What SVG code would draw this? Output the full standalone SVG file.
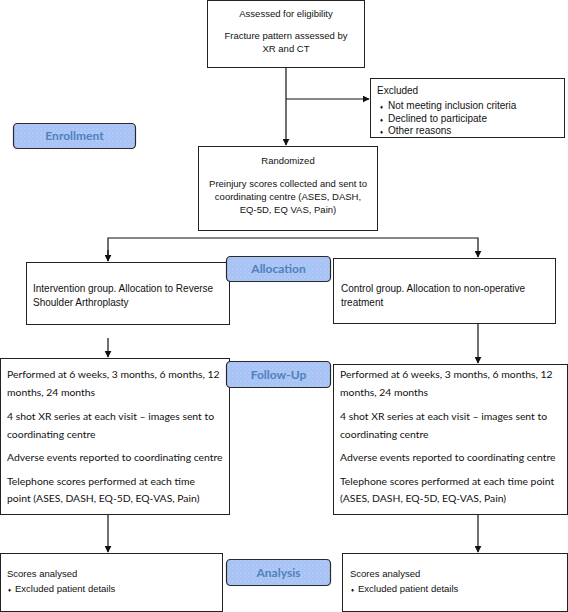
<svg xmlns="http://www.w3.org/2000/svg" width="568" height="612" viewBox="0 0 568 612">
<style>
.box{fill:#fff;stroke:#222;stroke-width:1}
.a{font-family:"Liberation Sans",Arial,sans-serif;font-size:9.5px;fill:#111}
.b{font-size:10px}
.c{font-family:Lato,"Liberation Sans",sans-serif;font-size:10.4px;fill:#111}
.mid{text-anchor:middle}
.pill{fill:url(#dots);stroke:#2a2a2a;stroke-width:1.2}
.pt{font-family:Lato,"Liberation Sans",sans-serif;font-weight:bold;font-size:12px;fill:#4f81bd;text-anchor:middle}
.ln{fill:none;stroke:#111;stroke-width:1.2}
.bul{font-size:6px}
</style>
<defs>
<pattern id="dots" width="4" height="4" patternUnits="userSpaceOnUse">
<rect width="4" height="4" fill="#a7c3f6"/>
<circle cx="1" cy="1" r="0.5" fill="#d9e3f0"/>
<circle cx="3" cy="3" r="0.4" fill="#c9d8f2"/>
</pattern>
<marker id="arr" viewBox="0 0 10 10" refX="9" refY="5" markerWidth="7" markerHeight="7" markerUnits="userSpaceOnUse" orient="auto">
<path d="M0,0 L10,5 L0,10 z" fill="#111"/>
</marker>
</defs>

<g id="connectors">
<path class="ln" d="M286,67 V145" marker-end="url(#arr)"/>
<path class="ln" d="M286,99 H369" marker-end="url(#arr)"/>
<path class="ln" d="M108,261 V238 H478 V257" marker-end="url(#arr)"/>
<path class="ln" d="M108,250 V261" marker-end="url(#arr)"/>
<path class="ln" d="M108,338 V357" marker-end="url(#arr)"/>
<path class="ln" d="M478,323 V363" marker-end="url(#arr)"/>
<path class="ln" d="M108,515 V552" marker-end="url(#arr)"/>
<path class="ln" d="M478,515 V552" marker-end="url(#arr)"/>
</g>

<g id="assessed">
<rect class="box" x="207.5" y="0.5" width="157" height="67"/>
<text class="a mid" x="286" y="17">Assessed for eligibility</text>
<text class="a mid" x="286" y="39">Fracture pattern assessed by</text>
<text class="a mid" x="286" y="52">XR and CT</text>
</g>

<g id="excluded">
<rect class="box" x="370.5" y="78.5" width="194" height="59"/>
<text class="a b" x="377" y="94">Excluded</text>
<text class="a b" x="380" y="109"><tspan class="bul">♦</tspan><tspan x="388">Not meeting inclusion criteria</tspan></text>
<text class="a b" x="380" y="122"><tspan class="bul">♦</tspan><tspan x="388">Declined to participate</tspan></text>
<text class="a b" x="380" y="134"><tspan class="bul">♦</tspan><tspan x="388">Other reasons</tspan></text>
</g>

<g id="enrollment">
<rect class="pill" x="13.5" y="123.5" width="122" height="25" rx="4"/>
<text class="pt" x="74.5" y="140">Enrollment</text>
</g>

<g id="randomized">
<rect class="box" x="198.5" y="146.5" width="179" height="84"/>
<text class="a mid" x="288" y="164">Randomized</text>
<text class="a mid" x="288" y="187">Preinjury scores collected and sent to</text>
<text class="a mid" x="288" y="200">coordinating centre (ASES, DASH,</text>
<text class="a mid" x="288" y="213">EQ-5D, EQ VAS, Pain)</text>
</g>

<g id="intervention">
<rect class="box" x="26.5" y="262.5" width="203" height="62"/>
<text class="a b" x="33" y="292">Intervention group. Allocation to Reverse</text>
<text class="a b" x="33" y="306">Shoulder Arthroplasty</text>
</g>

<g id="control">
<rect class="box" x="333.5" y="258.5" width="222" height="65"/>
<text class="a b" x="341" y="292">Control group. Allocation to non-operative</text>
<text class="a b" x="341" y="306">treatment</text>
</g>

<g id="allocation">
<rect class="pill" x="226.5" y="256.5" width="104" height="25" rx="4"/>
<text class="pt" x="278.5" y="273">Allocation</text>
</g>

<g id="followup-left">
<rect class="box" x="0.5" y="358.5" width="229" height="156"/>
<text class="c" x="7" y="378">Performed at 6 weeks, 3 months, 6 months, 12</text>
<text class="c" x="7" y="396">months, 24 months</text>
<text class="c" x="7" y="420">4 shot XR series at each visit – images sent to</text>
<text class="c" x="7" y="438">coordinating centre</text>
<text class="c" x="7" y="461">Adverse events reported to coordinating centre</text>
<text class="c" x="7" y="485">Telephone scores performed at each time</text>
<text class="c" x="7" y="502">point (ASES, DASH, EQ-5D, EQ-VAS, Pain)</text>
</g>

<g id="followup-right">
<rect class="box" x="333.5" y="364.5" width="234" height="150"/>
<text class="c" x="340" y="378">Performed at 6 weeks, 3 months, 6 months, 12</text>
<text class="c" x="340" y="396">months, 24 months</text>
<text class="c" x="340" y="420">4 shot XR series at each visit – images sent to</text>
<text class="c" x="340" y="438">coordinating centre</text>
<text class="c" x="340" y="461">Adverse events reported to coordinating centre</text>
<text class="c" x="340" y="485">Telephone scores performed at each time point</text>
<text class="c" x="340" y="502">(ASES, DASH, EQ-5D, EQ-VAS, Pain)</text>
</g>

<g id="followup">
<rect class="pill" x="226.5" y="361.5" width="104" height="26" rx="4"/>
<text class="pt" x="278.5" y="378.5">Follow-Up</text>
</g>

<g id="analysis-left">
<rect class="box" x="0.5" y="553.5" width="222" height="58"/>
<text class="a" x="7" y="577">Scores analysed</text>
<text class="a" x="8" y="592"><tspan class="bul">♦</tspan><tspan x="15">Excluded patient details</tspan></text>
</g>

<g id="analysis-right">
<rect class="box" x="342.5" y="553.5" width="225" height="58"/>
<text class="a" x="350" y="577">Scores analysed</text>
<text class="a" x="351" y="592"><tspan class="bul">♦</tspan><tspan x="358">Excluded patient details</tspan></text>
</g>

<g id="analysis">
<rect class="pill" x="226.5" y="559.5" width="104" height="26" rx="4"/>
<text class="pt" x="278.5" y="577">Analysis</text>
</g>
</svg>
